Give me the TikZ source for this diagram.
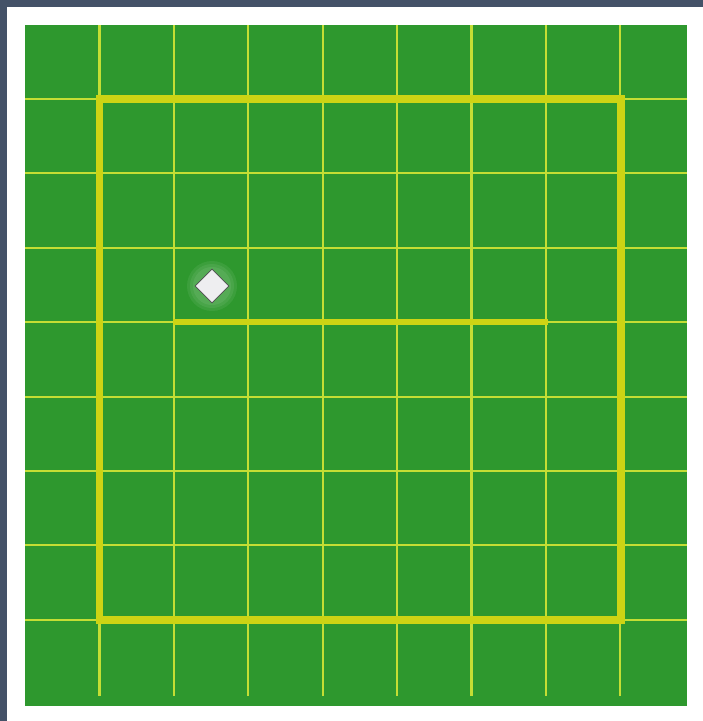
\documentclass[tikz,border=0pt]{standalone}
\usepackage{xcolor}
\usepackage{tikz}
\usetikzlibrary{shapes.geometric}
\definecolor{fieldgreen}{RGB}{46, 152, 46}
\definecolor{lineyellow}{RGB}{205, 212, 20}
\definecolor{thinyellow}{RGB}{196, 222, 52}
\definecolor{frameslate}{RGB}{68, 82, 104}
\definecolor{basegray}{RGB}{238, 238, 240}

\begin{document}
\begin{tikzpicture}[x=0.75pt, y=-0.75pt]
    %% frame and field
    \useasboundingbox (0,0) rectangle (703,721);
    \fill[frameslate] (0,0) rectangle (703,721);
    \fill[white] (7,7) rectangle (703,721);
    \fill[fieldgreen] (25,25) rectangle (687,706);

    %% thin grid lines
    \foreach \k in {0,...,7} {
      \draw[thinyellow, line width=1.6pt] ({99.5+74.4*\k},25) -- ({99.5+74.4*\k},696);
      \draw[thinyellow, line width=1.6pt] (25,{99+74.4*\k}) -- (687,{99+74.4*\k});
    }

    %% thick box and centre line
    \draw[lineyellow, line width=5.4pt] (99.5,99) rectangle (621,620);
    \draw[lineyellow, line width=3.8pt] (173,322) -- (548,322);

    %% base, with a soft glow
    \foreach \r in {25,22,19} {
      \fill[white, opacity=0.07] (212,286) circle (\r);
    }
    \node[diamond, fill=basegray, draw=gray!60!black, line width=0.6pt,
          minimum width=25.5pt, minimum height=25.5pt, inner sep=0pt]
      (base) at (212,286) {};
  \end{tikzpicture}
\end{document}
